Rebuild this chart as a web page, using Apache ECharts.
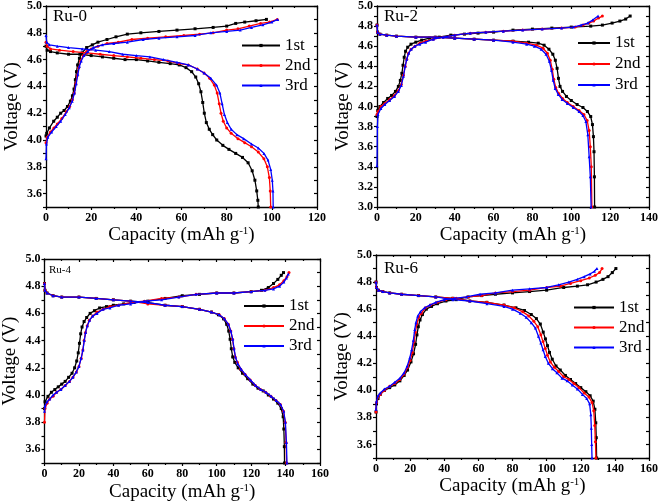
<!DOCTYPE html>
<html><head><meta charset="utf-8">
<script src="https://cdn.jsdelivr.net/npm/echarts@6/dist/echarts.min.js"></script>
<style>html,body{margin:0;padding:0;background:#fff}#c{width:661px;height:503px}</style>
</head><body><div id="c"></div><script>
// ---------- Ru-0 ----------
const RU0_CHG_1ST = [[0,4.03],[0.3,4.05],[1.5,4.09],[3.4,4.14],[5,4.17],[6.5,4.20],[8,4.22],[9.5,4.25],[10.8,4.29],[11.7,4.33],[12.4,4.38],[13,4.45],[13.5,4.51],[14,4.56],[14.8,4.61],[16,4.65],[18,4.69],[20.5,4.71],[23,4.73],[27,4.75],[31,4.77],[36,4.79],[42,4.80],[50,4.81],[58,4.82],[66,4.83],[74,4.84],[80,4.85],[84,4.87],[88,4.88],[93,4.89],[97.6,4.90]];
const RU0_CHG_2ND = [[0,3.98],[0.5,4.02],[2,4.06],[3.5,4.09],[5,4.12],[7,4.16],[9,4.21],[10.5,4.25],[11.7,4.30],[12.5,4.35],[13.2,4.42],[13.8,4.48],[14.5,4.54],[15.3,4.59],[16.5,4.63],[18,4.66],[20,4.68],[23,4.70],[27,4.72],[32,4.73],[38,4.75],[45,4.76],[53,4.77],[61,4.78],[68,4.79],[74,4.80],[80,4.82],[85,4.83],[90,4.85],[95,4.87],[99,4.88],[102.4,4.90]];
const RU0_CHG_3RD = [[0,3.86],[0.2,3.97],[0.8,4.02],[2.5,4.06],[4.5,4.10],[6.5,4.14],[8.5,4.19],[10.3,4.24],[11.6,4.29],[12.6,4.35],[13.4,4.42],[14.1,4.49],[14.8,4.55],[15.6,4.59],[16.8,4.63],[18.5,4.66],[21,4.69],[25,4.71],[30,4.72],[36,4.73],[43,4.75],[50,4.76],[58,4.77],[66,4.78],[73,4.80],[80,4.81],[86,4.82],[91,4.84],[96,4.86],[100,4.88],[102.6,4.90]];
const RU0_DIS_1ST = [[0,4.70],[0.5,4.67],[2,4.66],[5,4.65],[10,4.64],[15,4.64],[20,4.63],[25,4.62],[30,4.61],[35,4.60],[40,4.60],[45,4.59],[50,4.58],[55,4.57],[59,4.56],[62,4.54],[64.5,4.51],[66.3,4.47],[67.6,4.42],[68.6,4.36],[69.4,4.28],[70.1,4.20],[71,4.13],[72.3,4.08],[73.8,4.04],[75.6,4.00],[78.3,3.96],[81,3.93],[84,3.90],[87,3.87],[89.5,3.83],[91.3,3.77],[92.5,3.70],[93.3,3.62],[93.8,3.55],[94,3.50]];
const RU0_DIS_2ND = [[0,4.73],[0.5,4.70],[2,4.68],[6,4.67],[12,4.66],[18,4.65],[24,4.64],[30,4.63],[36,4.62],[42,4.61],[48,4.60],[54,4.59],[59,4.57],[63,4.56],[67,4.53],[70,4.50],[72.5,4.46],[74.5,4.41],[75.8,4.35],[76.7,4.27],[77.5,4.20],[78.5,4.14],[80,4.09],[82,4.05],[85,4.01],[88,3.98],[91,3.95],[94,3.91],[96.5,3.86],[98,3.80],[98.9,3.72],[99.3,3.62],[99.5,3.50]];
const RU0_DIS_3RD = [[0,4.78],[0.3,4.73],[1.5,4.71],[5,4.70],[10,4.69],[16,4.68],[22,4.67],[28,4.66],[34,4.64],[40,4.63],[46,4.62],[52,4.60],[58,4.58],[63,4.56],[67,4.53],[70,4.50],[73,4.46],[75.5,4.41],[77,4.35],[78,4.27],[79,4.19],[80.3,4.13],[82,4.08],[84.5,4.04],[87.5,4.01],[91,3.97],[94,3.94],[96.5,3.90],[98.3,3.85],[99.5,3.78],[100.2,3.70],[100.5,3.62],[100.6,3.50]];
// ---------- Ru-2 ----------
const RU2_CHG_1ST = [[0,3.90],[0.4,3.96],[1.5,4.00],[3.4,4.04],[5.5,4.08],[7.5,4.11],[9.5,4.15],[11,4.20],[12,4.26],[12.8,4.33],[13.4,4.41],[14,4.49],[14.7,4.55],[15.8,4.59],[17.5,4.62],[20,4.64],[23,4.66],[27,4.68],[32,4.69],[38,4.71],[45,4.72],[52,4.73],[60,4.74],[70,4.76],[80,4.77],[90,4.78],[100,4.79],[110,4.80],[116,4.81],[121,4.83],[125,4.85],[128,4.87],[130.3,4.90]];
const RU2_CHG_2ND = [[0,3.92],[0.5,3.95],[2,4.00],[4,4.03],[6.5,4.07],[9,4.11],[11,4.16],[12.5,4.22],[13.6,4.31],[14.5,4.40],[15.3,4.47],[16.2,4.53],[17.5,4.57],[19.5,4.60],[22,4.63],[25,4.65],[29,4.67],[34,4.69],[40,4.71],[48,4.73],[56,4.74],[65,4.75],[75,4.76],[85,4.77],[95,4.78],[102,4.79],[106,4.81],[109,4.83],[111.5,4.85],[114,4.88],[116,4.90]];
const RU2_CHG_3RD = [[0,3.41],[0.2,3.80],[0.5,3.92],[2,3.98],[4,4.02],[6.5,4.06],[9,4.10],[11,4.15],[12.5,4.21],[13.6,4.30],[14.5,4.40],[15.3,4.47],[16.3,4.53],[17.6,4.57],[19.5,4.60],[22,4.62],[25,4.64],[29,4.67],[34,4.69],[40,4.71],[48,4.73],[56,4.74],[65,4.75],[75,4.76],[85,4.77],[95,4.78],[101,4.79],[105,4.81],[108.5,4.83],[111,4.86],[113.8,4.90]];
const RU2_DIS_1ST = [[0,4.81],[0.3,4.74],[1.5,4.72],[5,4.71],[10,4.70],[20,4.69],[30,4.69],[40,4.68],[50,4.67],[60,4.66],[70,4.65],[78,4.64],[83,4.63],[86,4.61],[88.5,4.57],[90.5,4.52],[91.8,4.46],[92.7,4.38],[93.4,4.28],[94.2,4.20],[95.5,4.15],[97.5,4.10],[100,4.06],[103,4.02],[106,3.99],[108.3,3.95],[110,3.90],[110.9,3.82],[111.4,3.70],[111.7,3.55],[111.9,3.30],[112,3.00]];
const RU2_DIS_2ND = [[0,4.81],[0.3,4.74],[1.5,4.72],[5,4.71],[10,4.70],[20,4.69],[30,4.69],[40,4.68],[50,4.67],[60,4.66],[70,4.65],[77,4.63],[82,4.61],[85.5,4.58],[87.7,4.53],[89.2,4.46],[90.2,4.37],[91,4.27],[92,4.19],[93.5,4.13],[95.5,4.08],[98,4.04],[101,4.00],[104,3.96],[106.5,3.92],[108.2,3.86],[109.2,3.76],[109.8,3.60],[110.3,3.40],[110.6,3.00]];
const RU2_DIS_3RD = [[0,4.81],[0.3,4.74],[1.5,4.72],[5,4.71],[10,4.70],[20,4.69],[30,4.69],[40,4.68],[50,4.67],[60,4.66],[70,4.64],[77,4.62],[81,4.60],[84.5,4.57],[87,4.52],[88.7,4.45],[89.8,4.36],[90.7,4.26],[91.7,4.18],[93.3,4.12],[95.3,4.07],[98,4.03],[101,3.99],[104,3.95],[106,3.91],[107.5,3.85],[108.5,3.72],[109.2,3.50],[109.8,3.30],[110.2,3.00]];
// ---------- Ru-4 ----------
const RU4_CHG_1ST = [[0,3.90],[0.3,3.95],[2,3.99],[4,4.02],[6,4.04],[8,4.06],[10,4.08],[12,4.10],[14,4.13],[16,4.16],[17.5,4.20],[18.7,4.25],[19.6,4.31],[20.3,4.38],[21,4.45],[21.8,4.50],[23,4.54],[24.5,4.57],[26.5,4.60],[29,4.62],[32,4.64],[36,4.65],[40,4.66],[46,4.67],[52,4.68],[60,4.69],[70,4.71],[80,4.73],[90,4.74],[100,4.75],[110,4.75],[120,4.76],[126,4.77],[130,4.79],[133,4.82],[135.5,4.85],[137.5,4.88],[138.8,4.90]];
const RU4_CHG_2ND = [[0,3.80],[0.3,3.90],[1.5,3.94],[3,3.97],[5,3.99],[7,4.02],[9.5,4.04],[12,4.07],[14.5,4.10],[16.5,4.13],[18.5,4.17],[20,4.21],[21.3,4.27],[22.3,4.33],[23,4.40],[23.8,4.46],[24.8,4.51],[26,4.55],[28,4.58],[30.5,4.61],[34,4.63],[38,4.65],[43,4.66],[50,4.68],[58,4.69],[68,4.71],[78,4.72],[88,4.74],[100,4.75],[110,4.75],[120,4.76],[128,4.77],[133,4.79],[136.5,4.81],[139,4.84],[140.8,4.87],[142,4.90]];
const RU4_CHG_3RD = [[0,3.88],[0.3,3.92],[1.5,3.95],[3,3.97],[5,4.00],[7,4.02],[9.5,4.04],[12,4.07],[14.5,4.10],[16.5,4.13],[18.5,4.17],[20,4.21],[21.3,4.27],[22.3,4.33],[23.1,4.40],[23.9,4.46],[24.9,4.51],[26.2,4.55],[28,4.58],[30.5,4.60],[34,4.63],[38,4.64],[43,4.66],[50,4.67],[58,4.69],[68,4.70],[78,4.72],[88,4.74],[100,4.75],[110,4.75],[120,4.76],[128,4.77],[133,4.78],[136.5,4.80],[139,4.83],[140.5,4.86],[141.6,4.89]];
const RU4_DIS_1ST = [[0,4.82],[0.3,4.77],[1.5,4.75],[5,4.73],[10,4.72],[20,4.72],[30,4.71],[40,4.70],[50,4.69],[60,4.68],[70,4.66],[80,4.65],[90,4.63],[97,4.61],[101,4.59],[104,4.56],[105.8,4.52],[107,4.47],[107.8,4.41],[108.5,4.34],[109.3,4.28],[110.5,4.24],[112.5,4.20],[115,4.16],[118,4.12],[121,4.08],[124,4.05],[127,4.03],[130,4.00],[133,3.97],[135.5,3.94],[137.5,3.90],[138.6,3.84],[139,3.75],[139.3,3.62],[139.4,3.50]];
const RU4_DIS_2ND = [[0,4.82],[0.3,4.77],[1.5,4.75],[5,4.73],[10,4.72],[20,4.72],[30,4.71],[40,4.70],[50,4.69],[60,4.67],[70,4.66],[80,4.65],[90,4.63],[97,4.61],[101.5,4.59],[104.5,4.56],[106.8,4.52],[108.2,4.47],[109.2,4.41],[110,4.34],[110.8,4.28],[112,4.24],[114,4.19],[116.5,4.15],[119.5,4.11],[122.5,4.07],[125.5,4.04],[128.5,4.02],[131.5,3.99],[134.5,3.96],[137,3.93],[138.8,3.88],[139.8,3.80],[140.3,3.65],[140.6,3.50]];
const RU4_DIS_3RD = [[0,4.82],[0.3,4.77],[1.5,4.75],[5,4.73],[10,4.72],[20,4.72],[30,4.71],[40,4.70],[50,4.69],[60,4.68],[70,4.66],[80,4.65],[90,4.63],[97,4.61],[101.5,4.59],[104.5,4.56],[106.8,4.52],[108.2,4.47],[109.3,4.41],[110.1,4.34],[110.9,4.28],[112.2,4.23],[114.2,4.19],[116.7,4.15],[119.6,4.11],[122.6,4.07],[125.6,4.04],[128.6,4.02],[131.6,3.99],[134.6,3.96],[137.1,3.93],[138.9,3.88],[139.9,3.80],[140.5,3.65],[140.8,3.50]];
// ---------- Ru-6 ----------
const RU6_CHG_1ST = [[0,3.84],[0.3,3.90],[1.2,3.94],[2.5,3.97],[5,4.00],[8,4.02],[11,4.04],[14,4.07],[16.5,4.11],[18.5,4.15],[20.5,4.21],[22,4.27],[23.2,4.34],[24,4.41],[24.8,4.47],[25.8,4.52],[27.2,4.56],[29.5,4.60],[32.5,4.62],[36,4.64],[41,4.66],[47,4.67],[54,4.69],[62,4.70],[70,4.71],[80,4.72],[90,4.73],[100,4.74],[110,4.76],[118,4.77],[124,4.78],[129,4.80],[133,4.82],[136,4.84],[138.5,4.87],[140.6,4.90]];
const RU6_CHG_2ND = [[0,3.84],[0.3,3.91],[1.2,3.95],[2.5,3.97],[5,4.00],[8,4.03],[11,4.05],[14,4.08],[16.5,4.12],[18.5,4.17],[20,4.22],[21.3,4.28],[22.3,4.36],[23.1,4.43],[23.9,4.49],[25,4.54],[26.6,4.57],[29,4.61],[32,4.63],[36,4.65],[41,4.67],[47,4.68],[54,4.69],[62,4.70],[70,4.72],[80,4.73],[90,4.74],[100,4.76],[108,4.77],[114,4.79],[120,4.81],[125,4.83],[128.5,4.85],[131,4.87],[132.5,4.90]];
const RU6_CHG_3RD = [[0,3.86],[0.3,3.92],[1.2,3.96],[2.5,3.98],[5,4.01],[8,4.03],[11,4.06],[14,4.09],[16.5,4.13],[18.3,4.18],[19.8,4.24],[20.9,4.30],[21.9,4.37],[22.7,4.45],[23.4,4.50],[24.5,4.55],[26,4.58],[28.5,4.61],[31.5,4.63],[35,4.65],[40,4.67],[46,4.68],[53,4.69],[61,4.71],[70,4.72],[80,4.74],[90,4.75],[100,4.76],[107,4.78],[113,4.80],[118,4.82],[122,4.84],[125.5,4.86],[128,4.88],[129.5,4.90]];
const RU6_DIS_1ST = [[0,4.80],[0.3,4.76],[1.4,4.74],[4,4.73],[8,4.72],[15,4.71],[25,4.70],[35,4.69],[45,4.68],[55,4.66],[65,4.65],[75,4.63],[82,4.61],[87,4.59],[91,4.56],[94,4.53],[96.3,4.49],[98,4.43],[99.3,4.38],[100.5,4.33],[101.7,4.28],[103.3,4.23],[105.5,4.18],[108,4.15],[111,4.11],[114,4.08],[117,4.05],[120,4.02],[123,3.99],[125.5,3.96],[127.3,3.92],[128.3,3.86],[128.8,3.76],[129.1,3.65],[129.3,3.50]];
const RU6_DIS_2ND = [[0,4.80],[0.3,4.76],[1.4,4.74],[4,4.73],[8,4.72],[15,4.71],[25,4.70],[35,4.69],[45,4.68],[55,4.66],[65,4.65],[75,4.63],[81,4.61],[86,4.58],[89.5,4.55],[92.5,4.51],[94.8,4.47],[96.6,4.41],[97.9,4.36],[99.2,4.31],[100.5,4.26],[102.2,4.21],[104.5,4.17],[107,4.14],[110,4.10],[113,4.08],[116,4.05],[119,4.02],[122,3.98],[124.8,3.95],[126.6,3.91],[127.6,3.85],[128.2,3.74],[128.6,3.62],[128.9,3.50]];
const RU6_DIS_3RD = [[0,4.80],[0.3,4.76],[1.4,4.74],[4,4.73],[8,4.72],[15,4.71],[25,4.70],[35,4.69],[45,4.67],[55,4.66],[65,4.64],[75,4.62],[80,4.60],[84.5,4.57],[88,4.54],[91,4.50],[93.4,4.46],[95.2,4.40],[96.6,4.35],[97.9,4.30],[99.2,4.25],[101,4.20],[103.4,4.16],[106,4.13],[109,4.09],[112,4.07],[115,4.04],[118,4.01],[121,3.97],[123.5,3.94],[125.2,3.90],[125.9,3.82],[126.2,3.72],[126.4,3.60],[126.6,3.50]];

const CYCLE_NAMES = ['1st','2nd','3rd'];
const PANEL_LABELS = ['Ru-0','Ru-2','Ru-4','Ru-6'];
const X_MAX = [120,140,160,160];
const Y_MIN = [3.5,3.0,3.5,3.5];
const Y_MAX = [5.0,5.0,5.0,5.0];
const X_STEP = 20;
const Y_STEP = 0.1;
const CHARGE = [
  [RU0_CHG_1ST,RU0_CHG_2ND,RU0_CHG_3RD],
  [RU2_CHG_1ST,RU2_CHG_2ND,RU2_CHG_3RD],
  [RU4_CHG_1ST,RU4_CHG_2ND,RU4_CHG_3RD],
  [RU6_CHG_1ST,RU6_CHG_2ND,RU6_CHG_3RD]];
const DISCHARGE = [
  [RU0_DIS_1ST,RU0_DIS_2ND,RU0_DIS_3RD],
  [RU2_DIS_1ST,RU2_DIS_2ND,RU2_DIS_3RD],
  [RU4_DIS_1ST,RU4_DIS_2ND,RU4_DIS_3RD],
  [RU6_DIS_1ST,RU6_DIS_2ND,RU6_DIS_3RD]];

// ---------- styling / layout ----------
const COLORS = ['#000000','#ff0000','#0000ff'];
const SYMBOLS = ['rect','circle','triangle'];
const SERIF = 'Liberation Serif';
const GRIDS = [
  {left:46, top:6, width:271, height:201},
  {left:377, top:6, width:274, height:201},
  {left:43, top:259, width:277, height:204},
  {left:376, top:255, width:275, height:203}];
const LEGENDS = [
  {left:241, top:37, itemWidth:38, gap:3},
  {left:577, top:34.5, itemWidth:32, gap:4},
  {left:243, top:297.5, itemWidth:40, gap:3},
  {left:573, top:299, itemWidth:40, gap:3}];
const LABEL_POS = [
  {left:53, top:8.5, size:17},
  {left:384, top:8.5, size:17},
  {left:49, top:265, size:11},
  {left:384, top:260, size:17}];

const axisLineStyle = {color:'#000', width:1.3};
const xAxes = [], yAxes = [], series = [], legends = [], titles = [];
for (let p = 0; p < 4; p++) {
  const common = {gridIndex:p, type:'value', splitLine:{show:false}, minorSplitLine:{show:false}};
  xAxes.push(Object.assign({}, common, {
    position:'bottom', min:0, max:X_MAX[p], interval:X_STEP,
    axisLine:{show:true, onZero:false, lineStyle:axisLineStyle},
    axisTick:{show:true, inside:false, length:3, lineStyle:{color:'#000', width:1.2}},
    minorTick:{show:true, splitNumber:2, length:2, lineStyle:{color:'#000', width:1.2}},
    axisLabel:{color:'#000', fontFamily:SERIF, fontWeight:'bold', fontSize:12, margin:5},
    name:'Capacity (mAh g{sup|-1})', nameLocation:'middle', nameGap: p===2 ? 20 : 19,
    nameTextStyle:{color:'#000', fontFamily:SERIF, fontSize:19,
      rich:{sup:{fontFamily:SERIF, fontSize:11, color:'#000', verticalAlign:'top'}}}
  }));
  xAxes.push(Object.assign({}, common, {
    position:'top', min:0, max:X_MAX[p], interval:X_STEP,
    axisLine:{show:true, onZero:false, lineStyle:axisLineStyle},
    axisTick:{show:true, inside:true, length:3, lineStyle:{color:'#000', width:1.2}},
    minorTick:{show:true, splitNumber:2, length:2, lineStyle:{color:'#000', width:1.2}},
    axisLabel:{show:false}
  }));
  yAxes.push(Object.assign({}, common, {
    position:'left', min:Y_MIN[p], max:Y_MAX[p], interval:Y_STEP,
    axisLine:{show:true, onZero:false, lineStyle:axisLineStyle},
    axisTick:{show:true, inside:false, length:3, lineStyle:{color:'#000', width:1.2}},
    axisLabel:{color:'#000', fontFamily:SERIF, fontWeight:'bold', fontSize:12, margin:4,
      formatter: v => (Math.round(v*10) % 2 === 0) ? v.toFixed(1) : ''},
    name:'Voltage (V)', nameLocation:'middle', nameGap:24.5, nameRotate:90,
    nameTextStyle:{color:'#000', fontFamily:SERIF, fontSize:19}
  }));
  yAxes.push(Object.assign({}, common, {
    position:'right', min:Y_MIN[p], max:Y_MAX[p], interval:Y_STEP,
    axisLine:{show:true, onZero:false, lineStyle:axisLineStyle},
    axisTick:{show:true, inside:true, length:3, lineStyle:{color:'#000', width:1.2}},
    axisLabel:{show:false}
  }));
  for (let c = 0; c < 3; c++) {
    [CHARGE[p][c], DISCHARGE[p][c]].forEach(d => {
      series.push({
        type:'line', name:CYCLE_NAMES[c], xAxisIndex:2*p, yAxisIndex:2*p, data:d,
        showSymbol:true, showAllSymbol:true, symbol:SYMBOLS[c], symbolSize:3,
        lineStyle:{color:COLORS[c], width:1.3}, itemStyle:{color:COLORS[c]},
        clip:true, animation:false, z: 2 + c
      });
    });
  }
  legends.push({
    data:CYCLE_NAMES, orient:'vertical', left:LEGENDS[p].left, top:LEGENDS[p].top,
    itemWidth:LEGENDS[p].itemWidth, itemHeight:4, itemGap:LEGENDS[p].gap, padding:0, selectedMode:false,
    textStyle:{color:'#000', fontFamily:SERIF, fontSize:17}
  });
  titles.push({text:PANEL_LABELS[p], left:LABEL_POS[p].left, top:LABEL_POS[p].top, padding:0,
    textStyle:{color:'#000', fontFamily:SERIF, fontWeight:'normal', fontSize:LABEL_POS[p].size}});
}

const chart = echarts.init(document.getElementById('c'), null, {renderer:'canvas'});
chart.setOption({
  backgroundColor:'#fff', animation:false,
  title:titles, legend:legends, grid:GRIDS,
  xAxis:xAxes, yAxis:yAxes, series:series
});
</script></body></html>
